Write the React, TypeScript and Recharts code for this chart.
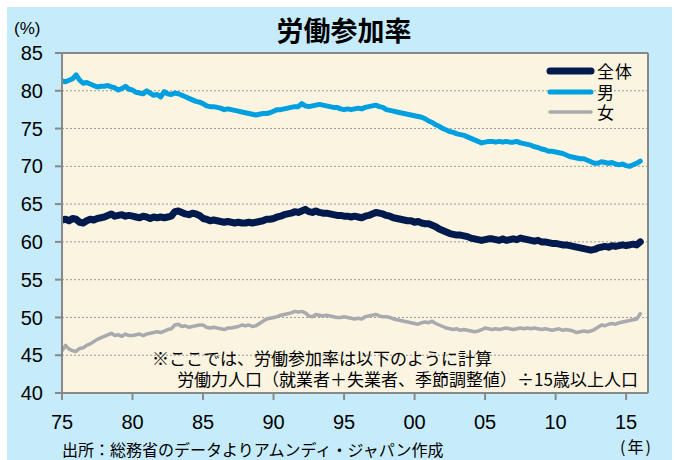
import React from "react";
import {
  LineChart,
  Line,
  XAxis,
  YAxis,
  CartesianGrid,
  ReferenceLine,
} from "recharts";

// quarterly values, 1975Q1 .. 2016Q1
const START_YEAR = 1975;

const totalRate = [
  62.9, 63.0, 62.8, 63.1, 63.0, 62.6, 62.5, 62.8, 63.0, 62.9, 63.1, 63.2,
  63.3, 63.5, 63.7, 63.4, 63.5, 63.6, 63.4, 63.5, 63.4, 63.3, 63.2, 63.4,
  63.3, 63.1, 63.3, 63.2, 63.3, 63.2, 63.3, 63.4, 64.0, 64.1, 63.9, 63.7,
  63.6, 63.8, 63.7, 63.5, 63.1, 63.0, 62.8, 62.9, 62.8, 62.7, 62.6, 62.7,
  62.6, 62.5, 62.6, 62.5, 62.5, 62.6, 62.5, 62.6, 62.7, 62.8, 63.0, 63.0,
  63.1, 63.3, 63.4, 63.6, 63.7, 63.8, 64.0, 63.9, 64.1, 64.3, 64.0, 63.9,
  64.1, 63.9, 63.8, 63.8, 63.7, 63.6, 63.5, 63.5, 63.4, 63.4, 63.3, 63.4,
  63.3, 63.2, 63.4, 63.5, 63.7, 63.9, 63.8, 63.7, 63.5, 63.4, 63.2, 63.1,
  63.0, 62.9, 62.8, 62.8, 62.6, 62.7, 62.5, 62.4, 62.4, 62.2, 62.0, 61.7,
  61.5, 61.3, 61.1, 61.0, 60.9, 60.9, 60.8, 60.7, 60.5, 60.4, 60.3, 60.2,
  60.3, 60.4, 60.4, 60.3, 60.2, 60.4, 60.2, 60.3, 60.4, 60.3, 60.5, 60.4,
  60.3, 60.2, 60.1, 60.2, 60.0, 60.0, 59.9, 59.8, 59.8, 59.7, 59.6, 59.6,
  59.5, 59.4, 59.3, 59.2, 59.1, 59.0, 58.9, 59.0, 59.2, 59.3, 59.4, 59.3,
  59.5, 59.4, 59.5, 59.6, 59.5, 59.6, 59.7, 59.6, 60.0,
];

const maleRate = [
  81.3, 81.2, 81.4, 81.6, 82.1, 81.4, 81.0, 81.1, 80.9, 80.7, 80.5, 80.6,
  80.6, 80.7, 80.5, 80.4, 80.1, 80.3, 80.6, 80.2, 80.1, 79.8, 79.7, 79.6,
  80.0, 79.7, 79.4, 79.5, 79.2, 79.9, 79.6, 79.5, 79.7, 79.6, 79.4, 79.2,
  79.0, 78.8, 78.6, 78.5, 78.3, 78.0, 77.9, 77.9, 77.8, 77.7, 77.5, 77.6,
  77.5, 77.4, 77.3, 77.2, 77.1, 77.0, 76.9, 76.8, 76.9, 77.0, 77.0, 77.1,
  77.3, 77.5, 77.5, 77.6, 77.7, 77.8, 77.9, 77.9, 78.3, 78.0, 77.9, 78.0,
  78.1, 78.2, 78.1, 78.0, 77.9, 77.8, 77.8, 77.6, 77.5, 77.6, 77.5, 77.6,
  77.7, 77.6, 77.8, 77.9, 78.0, 78.1, 77.9, 77.8, 77.5, 77.4, 77.3, 77.2,
  77.1, 77.0, 76.9, 76.8, 76.7, 76.6, 76.5, 76.3, 76.0, 75.8, 75.5, 75.3,
  75.0, 74.8, 74.6, 74.5, 74.3, 74.2, 74.1, 73.9, 73.7, 73.5, 73.3, 73.1,
  73.2, 73.3, 73.3, 73.2, 73.3, 73.2, 73.3, 73.2, 73.2, 73.3, 73.1, 73.0,
  72.9, 72.8, 72.6, 72.5, 72.3, 72.2, 72.0, 72.0, 71.9, 71.8, 71.7, 71.5,
  71.3, 71.2, 71.1, 71.0, 71.0, 70.8, 70.6, 70.4, 70.4, 70.6, 70.5, 70.4,
  70.5, 70.3, 70.2, 70.3, 70.1, 70.0, 70.2, 70.4, 70.7,
];

const femaleRate = [
  45.6, 46.3, 45.8, 45.6, 45.5, 45.9, 46.0, 46.3, 46.5, 46.8, 47.1, 47.3,
  47.5, 47.7, 47.9, 47.6, 47.7, 47.5, 47.8, 47.6, 47.6, 47.7, 47.8, 47.6,
  47.8, 47.9, 48.0, 48.1, 48.0, 48.2, 48.4, 48.5, 49.0, 49.1, 48.8, 48.9,
  48.7, 48.8, 48.9, 49.0, 49.0, 48.7, 48.6, 48.7, 48.6, 48.5, 48.4, 48.6,
  48.6, 48.7, 48.8, 49.0, 48.9, 49.0, 48.8, 48.9, 49.2, 49.5, 49.8, 49.9,
  50.0, 50.1, 50.3, 50.4, 50.5, 50.6, 50.8, 50.7, 50.8, 50.6, 50.2, 50.1,
  50.4, 50.3, 50.2, 50.3, 50.2, 50.1, 50.0, 50.0, 50.1, 50.0, 49.9, 49.8,
  49.9, 49.8, 50.1, 50.2, 50.3, 50.4, 50.2, 50.1, 50.1, 50.0, 49.8, 49.7,
  49.6, 49.5, 49.4, 49.3, 49.2, 49.1, 49.3, 49.4, 49.3, 49.5, 49.2, 49.0,
  48.8, 48.6, 48.5, 48.4, 48.5, 48.3, 48.4, 48.3, 48.2, 48.1, 48.2, 48.4,
  48.6, 48.5, 48.4, 48.5, 48.4, 48.5, 48.6, 48.5, 48.4, 48.5, 48.6, 48.5,
  48.6, 48.5, 48.6, 48.5, 48.4, 48.5, 48.4, 48.3, 48.4, 48.5, 48.3, 48.4,
  48.3, 48.2, 48.0, 48.1, 48.2, 48.1, 48.2, 48.4, 48.7, 49.0, 48.9, 49.1,
  49.2, 49.1, 49.3, 49.4, 49.5, 49.6, 49.7, 49.8, 50.5,
];

const xTicks = [1975, 1980, 1985, 1990, 1995, 2000, 2005, 2010, 2015];
const yTicks = [40, 45, 50, 55, 60, 65, 70, 75, 80, 85];

const series = [
  { key: "total", name: "全体", color: "#001A4D", width: 7 },
  { key: "male", name: "男", color: "#00A0E0", width: 5 },
  { key: "female", name: "女", color: "#A9AAB0", width: 3.5 },
];

const data = totalRate.map((v, i) => ({
  t: START_YEAR + i / 4,
  total: v,
  male: maleRate[i],
  female: femaleRate[i],
}));

const X_MAX = 2016.55;
const numFont = "'Liberation Sans', Arial, sans-serif";
const jpFont = "'Noto Sans CJK JP', 'Noto Sans', sans-serif";

function LegendBox() {
  return (
    <div
      style={{
        position: "absolute",
        left: 540,
        top: 61,
        fontFamily: jpFont,
        fontSize: 17,
      }}
    >
      {series.map((s) => (
        <div
          key={s.key}
          style={{ display: "flex", alignItems: "center", height: 20.5 }}
        >
          <svg width={56} height={20}>
            <line
              x1={10}
              y1={10}
              x2={51}
              y2={10}
              stroke={s.color}
              strokeWidth={s.width}
              strokeLinecap="round"
            />
          </svg>
          <span style={{ marginLeft: 1, letterSpacing: 1, lineHeight: "18px" }}>
            {s.name}
          </span>
        </div>
      ))}
    </div>
  );
}

export default function App() {
  return (
    <div
      style={{
        position: "absolute",
        left: 0,
        top: 0,
        width: 675,
        height: 460,
        background: "#fff",
        overflow: "hidden",
      }}
    >
      <div
        style={{
          position: "absolute",
          left: 7,
          top: 7,
          width: 665,
          height: 460,
          background: "#C6ECFC",
        }}
      />
      <div
        style={{
          position: "absolute",
          left: 0,
          top: 11,
          width: 688,
          textAlign: "center",
          fontFamily: jpFont,
          fontWeight: 700,
          fontSize: 27,
          lineHeight: "38px",
        }}
      >
        労働参加率
      </div>
      <div
        style={{
          position: "absolute",
          left: 14,
          top: 19,
          fontFamily: numFont,
          fontSize: 17,
          lineHeight: "20px",
        }}
      >
        (%)
      </div>
      <div style={{ position: "absolute", left: 0, top: 0 }}>
        <LineChart
          width={675}
          height={460}
          data={data}
          margin={{ top: 53, right: 27, bottom: 37, left: 20 }}
        >
          <CartesianGrid
            vertical={false}
            stroke="#999"
            strokeDasharray="2 2"
            fill="#FBF4E1"
            fillOpacity={1}
          />
          <XAxis
            type="number"
            dataKey="t"
            domain={[1975, X_MAX]}
            ticks={xTicks}
            allowDataOverflow
            tickFormatter={(v: number) => String(v % 100).padStart(2, "0")}
            tick={{ fill: "#000", fontSize: 20, fontFamily: numFont }}
            tickSize={7}
            tickMargin={15}
            tickLine={{ stroke: "#888", strokeWidth: 2 }}
            axisLine={{ stroke: "#888", strokeWidth: 2 }}
            height={30}
          />
          <YAxis
            domain={[40, 85]}
            ticks={yTicks}
            allowDataOverflow
            tick={{ fill: "#000", fontSize: 20, fontFamily: numFont }}
            tickSize={7}
            tickMargin={12}
            tickLine={{ stroke: "#888", strokeWidth: 2 }}
            axisLine={{ stroke: "#888", strokeWidth: 2 }}
            width={42}
          />
          <ReferenceLine y={85} stroke="#888" strokeWidth={2} />
          <ReferenceLine x={X_MAX} stroke="#888" strokeWidth={2} />
          {series.map((s) => (
            <Line
              key={s.key}
              type="linear"
              dataKey={s.key}
              name={s.name}
              stroke={s.color}
              strokeWidth={s.width}
              strokeLinejoin="round"
              strokeLinecap="round"
              dot={false}
              isAnimationActive={false}
            />
          ))}
        </LineChart>
      </div>
      <LegendBox />
      <div
        style={{
          position: "absolute",
          left: 152,
          top: 348,
          fontFamily: jpFont,
          fontSize: 17,
          lineHeight: "20px",
          whiteSpace: "nowrap",
        }}
      >
        ※ここでは、労働参加率は以下のように計算
      </div>
      <div
        style={{
          position: "absolute",
          right: 37,
          top: 369,
          fontFamily: jpFont,
          fontSize: 17,
          lineHeight: "20px",
          whiteSpace: "nowrap",
        }}
      >
        労働力人口（就業者＋失業者、季節調整値）÷15歳以上人口
      </div>
      <div
        style={{
          position: "absolute",
          left: 620,
          top: 436,
          fontFamily: jpFont,
          fontSize: 16,
          lineHeight: "20px",
          letterSpacing: 2,
        }}
      >
        (年)
      </div>
      <div
        style={{
          position: "absolute",
          left: 62,
          top: 439,
          fontFamily: jpFont,
          fontSize: 16,
          lineHeight: "20px",
          whiteSpace: "nowrap",
        }}
      >
        出所：総務省のデータよりアムンディ・ジャパン作成
      </div>
    </div>
  );
}
